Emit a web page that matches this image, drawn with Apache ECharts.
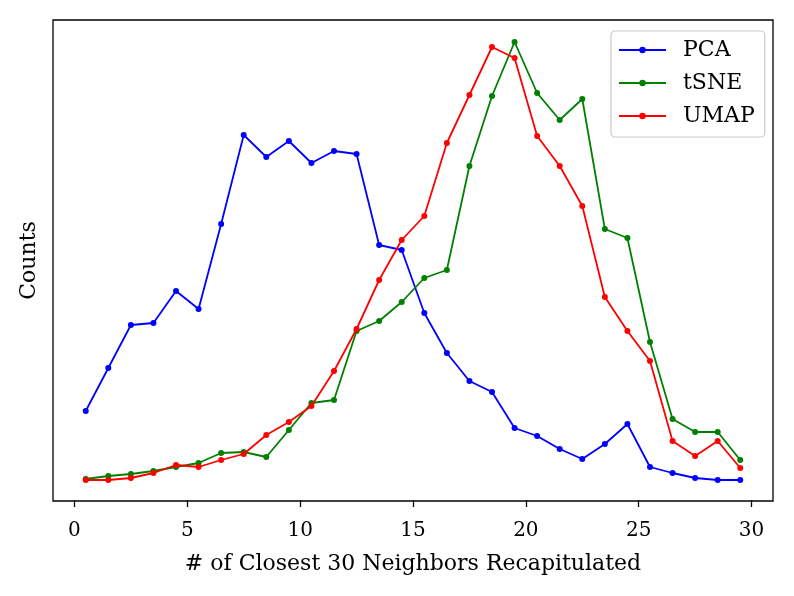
<!DOCTYPE html>
<html>
<head>
<meta charset="utf-8">
<script src="https://cdn.jsdelivr.net/npm/echarts@6/dist/echarts.min.js"></script>
<style>
html,body{margin:0;padding:0;background:#fff;}
#chart{width:794px;height:596px;}
</style>
</head>
<body>
<div id="chart"></div>
<script>
const xValues = [0.5,1.5,2.5,3.5,4.5,5.5,6.5,7.5,8.5,9.5,10.5,11.5,12.5,13.5,14.5,15.5,16.5,17.5,18.5,19.5,20.5,21.5,22.5,23.5,24.5,25.5,26.5,27.5,28.5,29.5];
const pca  = [89,132,175,177,209,191,276,365,343,359,337,349,346,255,250,187,147,119,108,72,64,51,41,56,76,33,27,22,20,20];
const tsne = [21,24,26,29,33,37,47,48,43,70,97,100,169,179,198,222,230,334,404,458,407,380,401,271,262,158,81,68,68,40];
const umap = [20,20,22,27,35,33,40,46,65,78,94,129,171,220,260,284,357,405,453,442,364,334,294,203,169,139,59,44,59,32];
const xTicks = [0,5,10,15,20,25,30];
const seriesNames = ['PCA','tSNE','UMAP'];
const seriesColors = ['#0000ff','#008000','#ff0000'];
const xLabel = '# of Closest 30 Neighbors Recapitulated';
const yLabel = 'Counts';

const FONT = 'DejaVu Serif';
const chart = echarts.init(document.getElementById('chart'), null, {renderer:'canvas'});

function pairs(ys){ return xValues.map((x,i)=>[x, ys[i]]); }
const allData = [pca, tsne, umap];

chart.setOption({
  animation:false,
  backgroundColor:'#ffffff',
  grid:{left:53,right:21,top:20,bottom:95,show:true,borderColor:'#000',borderWidth:1.3,backgroundColor:'transparent'},
  legend:{
    orient:'vertical',
    left:611, top:31,
    padding:[8,10,10,7],
    itemWidth:47, itemHeight:8, itemGap:11,
    backgroundColor:'rgba(255,255,255,0.8)',
    borderColor:'#cccccc', borderWidth:1.2, borderRadius:4,
    textStyle:{fontFamily:FONT,fontSize:22,color:'#000',padding:[0,0,0,12],lineHeight:22},
    data:seriesNames
  },
  xAxis:{
    type:'value', min:-0.95, max:30.95,
    name:xLabel, nameLocation:'middle', nameGap:52,
    nameTextStyle:{fontFamily:FONT,fontSize:22,color:'#000'},
    axisLine:{show:false},
    axisTick:{show:true,length:7,lineStyle:{color:'#000',width:1.3},customValues:xTicks},
    axisLabel:{fontFamily:FONT,fontSize:20,color:'#000',margin:20,customValues:xTicks},
    splitLine:{show:false}
  },
  yAxis:{
    type:'value', min:-1, max:480,
    name:yLabel, nameLocation:'middle', nameGap:13,
    nameTextStyle:{fontFamily:FONT,fontSize:22,color:'#000'},
    axisLine:{show:false}, axisTick:{show:false}, axisLabel:{show:false}, splitLine:{show:false}
  },
  series: seriesNames.map((n,i)=>({
    name:n, type:'line', data:pairs(allData[i]),
    symbol:'circle', symbolSize:6,
    lineStyle:{color:seriesColors[i],width:1.8},
    itemStyle:{color:seriesColors[i]},
    z: 2+i
  }))
});
</script>
</body>
</html>
